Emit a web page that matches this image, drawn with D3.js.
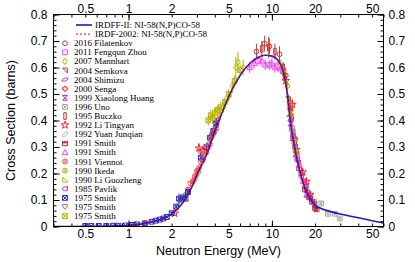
<!DOCTYPE html>
<html>
<head>
<meta charset="UTF-8">
<script src="https://d3js.org/d3.v7.min.js"></script>
<style>
  body { margin: 0; background: #fff; }
  svg { display: block; }
  .tick text { font-family: "Liberation Sans", Arial, sans-serif; font-size: 12px; fill: #000; }
  .axis-title { font-family: "Liberation Sans", Arial, sans-serif; font-size: 12.5px; }
  .leg { font-family: "Liberation Serif", "Times New Roman", serif; font-size: 9px; }
</style>
</head>
<body>
<svg width="415" height="262"></svg>
<script>
// evaluated curves: energy (MeV) / cross section (barns)
const curveEnergy = [0.3, 0.5, 0.8, 1, 1.2, 1.4, 1.7, 2, 2.4, 2.8, 3, 3.5, 4, 4.5, 5, 5.5, 6, 7, 8, 9, 10, 11, 12, 12.5, 13, 13.5, 14, 14.5, 15, 16, 17, 18, 19, 20, 22, 25, 30, 40, 50, 60];
const irdffII   = [0, 0.0005, 0.002, 0.004, 0.008, 0.016, 0.028, 0.048, 0.09, 0.155, 0.195, 0.27, 0.36, 0.43, 0.49, 0.535, 0.57, 0.615, 0.638, 0.646, 0.643, 0.628, 0.585, 0.54, 0.47, 0.39, 0.335, 0.29, 0.25, 0.19, 0.145, 0.115, 0.095, 0.08, 0.068, 0.058, 0.047, 0.033, 0.022, 0.013];
const irdf2002Energy = [1, 1.2, 1.4, 1.7, 2, 2.4, 2.8, 3, 3.5, 4, 4.5, 5, 5.5, 6, 7, 8, 9, 10, 11, 12, 12.5, 13, 13.5, 14, 14.5, 15, 16, 17, 18, 19, 20];
const irdf2002  = [0.004, 0.008, 0.016, 0.028, 0.048, 0.09, 0.155, 0.195, 0.27, 0.36, 0.43, 0.49, 0.535, 0.57, 0.615, 0.638, 0.646, 0.643, 0.628, 0.585, 0.54, 0.47, 0.39, 0.335, 0.29, 0.25, 0.19, 0.145, 0.115, 0.095, 0.08];

// measurements: [energy, sigma, error]
const filatenkov2016 = [[7.8,0.66,0.03],[8.9,0.69,0.03],[9.6,0.68,0.03],[11.3,0.65,0.03],[12.5,0.57,0.03],[13.9,0.36,0.02],[14.8,0.28,0.015],[16.0,0.2,0.012],[17.3,0.15,0.01],[18.5,0.11,0.008]];
const zhou2011 = [[8.0,0.625,0.02],[9.6,0.61,0.02],[11.0,0.605,0.02],[13.8,0.37,0.02],[14.3,0.33,0.02]];
const mannhart2007 = [[3.8,0.35,0.02],[4.0,0.39,0.02],[4.3,0.42,0.02],[4.6,0.45,0.02],[5.0,0.49,0.02],[5.3,0.53,0.025],[5.6,0.6,0.04],[5.8,0.62,0.04],[6.3,0.6,0.03],[11.5,0.61,0.02],[12.3,0.57,0.02],[13.2,0.47,0.02],[14.0,0.35,0.015]];
const semkova2004 = [[12.0,0.57,0.02],[13.0,0.48,0.02],[13.6,0.41,0.015],[14.3,0.32,0.015],[15.3,0.24,0.01],[16.5,0.17,0.01],[17.5,0.13,0.01],[18.5,0.1,0.008],[19.5,0.085,0.008]];
const shimizu2004 = [[13.4,0.42,0.015],[14.1,0.33,0.015],[14.8,0.27,0.012]];
const senga2000 = [[2.35,0.1,0.01],[13.5,0.44,0.02],[14.5,0.33,0.02]];
const huang1999 = [[13.5,0.39,0.015],[14.0,0.345,0.015],[14.6,0.29,0.012],[17.5,0.12,0.01]];
const uno1996 = [[13.3,0.45,0.02],[14.0,0.36,0.02],[15.0,0.26,0.015],[19.8,0.092,0.008],[22.1,0.087,0.008],[24.6,0.048,0.006],[27.4,0.048,0.006],[29.7,0.03,0.006]];
const buczko1995 = [[8.5,0.67,0.03],[9.5,0.675,0.04],[10.5,0.66,0.03],[12.0,0.6,0.02],[13.5,0.43,0.02],[14.5,0.31,0.02],[20.0,0.082,0.01]];
const liTingyan1992 = [[1.1,0.004,0.003],[1.3,0.008,0.003],[2.1,0.05,0.005],[3.1,0.295,0.02],[3.3,0.285,0.02],[12.5,0.55,0.02],[13.9,0.46,0.02],[14.8,0.29,0.02],[16.4,0.205,0.012],[17.4,0.17,0.01],[18.5,0.12,0.01]];
const yuanJunqian1992 = [[2.2,0.08,0.01],[14.2,0.32,0.02],[14.6,0.3,0.02]];
const smith1991a = [[15.5,0.22,0.015],[17.0,0.14,0.01],[18.2,0.11,0.01],[19.0,0.095,0.008],[20.0,0.07,0.008],[20.5,0.065,0.008]];
const smith1991b = [[7.0,0.6,0.02],[7.5,0.615,0.02],[8.5,0.625,0.02],[9.0,0.61,0.02],[10.0,0.615,0.02],[10.5,0.6,0.02],[11.5,0.595,0.02],[14.0,0.34,0.015],[14.8,0.27,0.012],[15.5,0.23,0.01],[16.5,0.17,0.01],[17.5,0.12,0.01]];
const viennot1991 = [[2.6,0.14,0.01],[2.8,0.17,0.012],[2.9,0.19,0.012],[3.0,0.21,0.012],[3.1,0.22,0.015],[3.3,0.25,0.015],[3.5,0.28,0.015],[3.7,0.31,0.02],[3.9,0.35,0.02],[4.1,0.37,0.02]];
const ikeda1990 = [[2.3,0.1,0.01],[2.5,0.12,0.01],[12.8,0.53,0.02],[13.6,0.42,0.02],[14.7,0.29,0.015]];
const liGuozheng1990 = [[14.1,0.34,0.015],[14.5,0.31,0.015],[14.9,0.28,0.015]];
const pavlik1985 = [[13.5,0.4,0.015],[14.0,0.34,0.015],[14.5,0.3,0.012],[15.0,0.25,0.01],[16.0,0.19,0.01],[17.0,0.15,0.008],[18.0,0.115,0.008],[19.0,0.09,0.006]];
const smith1975a = [[0.5,0.002,0.001],[0.55,0.002,0.001],[0.62,0.002,0.001],[0.7,0.002,0.001],[0.78,0.003,0.001],[0.85,0.003,0.001],[0.95,0.004,0.001],[1.05,0.006,0.002],[1.15,0.008,0.002],[1.3,0.012,0.002],[1.45,0.018,0.003],[1.55,0.022,0.003],[1.65,0.026,0.003],[1.75,0.03,0.004],[1.85,0.036,0.004],[2.0,0.05,0.005],[2.15,0.075,0.006],[2.25,0.105,0.02],[2.4,0.11,0.008],[2.5,0.105,0.008],[2.6,0.13,0.01],[3.2,0.26,0.02],[3.5,0.3,0.015],[3.7,0.335,0.015],[3.9,0.36,0.02],[4.1,0.39,0.02]];
const smith1975b = [[2.7,0.16,0.01],[2.9,0.175,0.01],[3.05,0.2,0.015],[3.2,0.24,0.015],[3.35,0.27,0.015],[3.55,0.3,0.02],[3.75,0.33,0.02],[3.95,0.355,0.02],[4.2,0.4,0.02]];
const smith1975c = [[3.6,0.4,0.02],[3.75,0.42,0.02],[3.85,0.41,0.02],[4.0,0.43,0.02],[4.2,0.44,0.02],[4.4,0.45,0.02],[4.7,0.47,0.02],[5.0,0.5,0.02],[5.5,0.55,0.02],[6.0,0.59,0.02]];

const seriesNames = ["2016 Filatenkov", "2011 Fengqun Zhou", "2007 Mannhart", "2004 Semkova", "2004 Shimizu", "2000 Senga",
  "1999 Xiaolong Huang", "1996 Uno", "1995 Buczko", "1992 Li Tingyan", "1992 Yuan Junqian", "1991 Smith", "1991 Smith",
  "1991 Viennot", "1990 Ikeda", "1990 Li Guozheng", "1985 Pavlik", "1975 Smith", "1975 Smith", "1975 Smith"];
const seriesData = [filatenkov2016, zhou2011, mannhart2007, semkova2004, shimizu2004, senga2000, huang1999, uno1996,
  buczko1995, liTingyan1992, yuanJunqian1992, smith1991a, smith1991b, viennot1991, ikeda1990, liGuozheng1990,
  pavlik1985, smith1975a, smith1975b, smith1975c];
const curveNames = ["IRDFF-II: NI-58(N,P)CO-58", "IRDF-2002: NI-58(N,P)CO-58"];

const xLabelTicks = [0.5, 1, 2, 5, 10, 20, 50];
const xMajorTicks = [1, 10];
const xMinorTicks = [0.3,0.4,0.5,0.6,0.7,0.8,0.9,1,2,3,4,5,6,7,8,9,10,20,30,40,50,60];
const yLabelTicks = [0, 0.1, 0.2, 0.3, 0.4, 0.5, 0.6, 0.7, 0.8];
const yMinorTicks = d3.range(0, 0.801, 0.02);

// marker styles
const colors = ["#c03838", "#ff44ff", "#b5b500", "#d42a2a", "#b04ce0", "#ff2a2a", "#a028c8", "#a8a8a8", "#c83838", "#ff2020",
  "#b8b8b8", "#b02828", "#ff40ff", "#ff4848", "#b5b500", "#b5b500", "#b838d8", "#2828d0", "#ff5050", "#b5b500"];
const h = 2.4;
const circ = r => `M${r},0A${r},${r} 0 1,1 ${-r},0A${r},${r} 0 1,1 ${r},0Z`;
const sq = r => `M${-r},${-r}H${r}V${r}H${-r}Z`;
const xx = r => `M${-r},${-r}L${r},${r}M${r},${-r}L${-r},${r}`;
const a = h * 0.4;
const shapes = [
  circ(h),
  sq(h),
  `M0,${-h*1.3}L${h},0L0,${h*1.3}L${-h},0Z`,
  `M${-h},${-h}L${h},${-h}L${h},${h}Z`,
  `M${-h*1.4},${h*0.6}L${-h*0.4},${-h*0.6}L${h*1.4},${-h*0.6}L${h*0.4},${h*0.6}Z`,
  `M${-a},${-h}H${a}V${-a}H${h}V${a}H${a}V${h}H${-a}V${a}H${-h}V${-a}H${-a}Z`,
  `M${-h},${-h}H${h}L${-h},${h}H${h}Z`,
  sq(h) + xx(h * 0.7),
  `M${-h*0.5},${-h*1.4}H${h*0.5}V${h*1.4}H${-h*0.5}Z`,
  d3.symbol(d3.symbolStar, 18)(),
  `M${-h},${h}A${h*1.4},${h*0.6} -45 1,1 ${h},${-h}A${h*1.4},${h*0.6} -45 1,1 ${-h},${h}Z`,
  `M${-h},${h}V${-h}L${-h*0.4},0L0,${-h}L${h*0.4},0L${h},${-h}V${h}Z`,
  `M0,${-h*1.2}L${h*1.2},${h*0.9}L${-h*1.2},${h*0.9}Z`,
  circ(h) + xx(h * 0.7),
  circ(h) + xx(h * 0.7),
  `M${-h},${-h}L${h*1.2},${h}H${-h}Z`,
  `M${h},${-h*1.3}V${h*0.8}H${-h*0.2}A${h*0.8},${h*0.8} 0 0 1 ${-h*0.2},${-h*0.8}H${h}`,
  sq(h) + xx(h),
  `M0,${h}L${-h},${-h*0.2}V${-h}H${h}V${-h*0.2}Z`,
  sq(h) + xx(h)
];

const svg = d3.select("svg");
const x = d3.scaleLog().domain([0.3, 60]).range([53.5, 383.5]);
const y = d3.scaleLinear().domain([0, 0.8]).range([226.5, 14.5]);
const [x0, x1] = x.range(), [y0, y1] = y.range();

svg.append("defs").append("clipPath").attr("id", "clip")
  .append("rect").attr("x", x0).attr("y", y1).attr("width", x1 - x0).attr("height", y0 - y1);

const plot = svg.append("g").attr("clip-path", "url(#clip)");

// data points with error bars
seriesData.forEach((pts, i) => {
  const g = plot.append("g").attr("stroke", colors[i]).attr("fill", "none").attr("stroke-width", 1);
  g.selectAll("line").data(pts).enter().append("line")
    .attr("x1", d => x(d[0])).attr("x2", d => x(d[0]))
    .attr("y1", d => y(d[1] - d[2])).attr("y2", d => y(d[1] + d[2]));
  g.selectAll("path").data(pts).enter().append("path")
    .attr("d", shapes[i])
    .attr("transform", d => `translate(${x(d[0])},${y(d[1])})`);
});

// evaluated curves
const line = d3.line().x(d => x(d[0])).y(d => y(d[1])).curve(d3.curveMonotoneX);
plot.append("path").datum(d3.zip(curveEnergy, irdffII))
  .attr("d", line).attr("fill", "none").attr("stroke", "#1c1cb0").attr("stroke-width", 1.6);
plot.append("path").datum(d3.zip(irdf2002Energy, irdf2002))
  .attr("d", line).attr("fill", "none").attr("stroke", "#e01010").attr("stroke-width", 1).attr("stroke-dasharray", "2,2");

// axes, ticks pointing inward
function addAxis(axis, tr) {
  const g = svg.append("g").attr("transform", tr).call(axis);
  g.select(".domain").remove();
  return g;
}
const fmt = d3.format("~g");
addAxis(d3.axisBottom(x).tickValues(xMinorTicks).tickSize(-3).tickFormat(""), `translate(0,${y0})`);
addAxis(d3.axisBottom(x).tickValues(xMajorTicks).tickSize(-6).tickFormat(""), `translate(0,${y0})`);
addAxis(d3.axisBottom(x).tickValues(xLabelTicks).tickSize(0).tickPadding(3).tickFormat(fmt), `translate(0,${y0})`);
addAxis(d3.axisTop(x).tickValues(xMinorTicks).tickSize(-3).tickFormat(""), `translate(0,${y1})`);
addAxis(d3.axisTop(x).tickValues(xMajorTicks).tickSize(-6).tickFormat(""), `translate(0,${y1})`);
addAxis(d3.axisTop(x).tickValues(xLabelTicks).tickSize(0).tickPadding(2).tickFormat(fmt), `translate(0,${y1})`);
addAxis(d3.axisLeft(y).tickValues(yMinorTicks).tickSize(-3).tickFormat(""), `translate(${x0},0)`);
addAxis(d3.axisLeft(y).tickValues(yLabelTicks).tickSize(-6).tickPadding(6).tickFormat(fmt), `translate(${x0},0)`);
addAxis(d3.axisRight(y).tickValues(yMinorTicks).tickSize(-3).tickFormat(""), `translate(${x1},0)`);
addAxis(d3.axisRight(y).tickValues(yLabelTicks).tickSize(-6).tickPadding(5).tickFormat(fmt), `translate(${x1},0)`);

svg.append("rect").attr("x", x0).attr("y", y1).attr("width", x1 - x0).attr("height", y0 - y1)
  .attr("fill", "none").attr("stroke", "#000").attr("stroke-width", 1);

svg.append("text").attr("class", "axis-title")
  .attr("x", (x0 + x1) / 2).attr("y", 255).attr("text-anchor", "middle")
  .text("Neutron Energy (MeV)");
svg.append("text").attr("class", "axis-title")
  .attr("transform", `translate(15,${(y0 + y1) / 2}) rotate(-90)`).attr("text-anchor", "middle")
  .text("Cross Section (barns)");

// legend
const rowY = i => 25 + i * 9.1;
const legend = svg.append("g");
[["#1c1cb0", null, 1.6], ["#e01010", "2,2", 1]].forEach((c, i) => {
  legend.append("line").attr("x1", 76).attr("x2", 92).attr("y1", rowY(i)).attr("y2", rowY(i))
    .attr("stroke", c[0]).attr("stroke-width", c[2]).attr("stroke-dasharray", c[1]);
  legend.append("text").attr("class", "leg").attr("x", 95).attr("y", rowY(i) + 3).text(curveNames[i]);
});
seriesNames.forEach((name, i) => {
  const yy = rowY(i + 2);
  legend.append("path").attr("d", shapes[i]).attr("transform", `translate(65,${yy})`)
    .attr("fill", "none").attr("stroke", colors[i]).attr("stroke-width", 1);
  legend.append("text").attr("class", "leg").attr("x", 74).attr("y", yy + 3).text(name);
});
</script>
</body>
</html>
